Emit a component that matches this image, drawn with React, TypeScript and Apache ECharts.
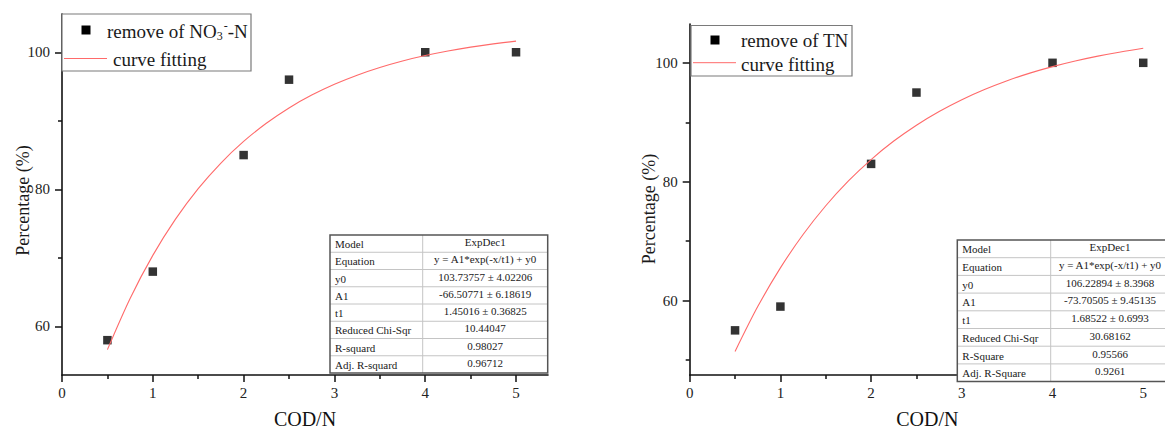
import React, { useEffect, useRef } from "react";
import * as echarts from "echarts";

// ---------- data ----------
const codN = [0.5, 1, 2, 2.5, 4, 5];
const no3Removal = [58, 68, 85, 96, 100, 100];
const tnRemoval = [55, 59, 83, 95, 100, 100];

// fitted curves (ExpDec1)
const fitX = [0.5, 0.75, 1, 1.25, 1.5, 1.75, 2, 2.25, 2.5, 2.75, 3, 3.25, 3.5, 3.75, 4, 4.25, 4.5, 4.75, 5];
const no3Fit = [56.62, 64.09, 70.37, 75.65, 80.1, 83.84, 86.99, 89.64, 91.88, 93.75, 95.33, 96.66, 97.78, 98.73, 99.52, 100.19, 100.75, 101.22, 101.62];
const tnFit = [51.45, 59.0, 65.51, 71.12, 75.96, 80.14, 83.73, 86.84, 89.51, 91.81, 93.8, 95.51, 96.99, 98.27, 99.36, 100.31, 101.13, 101.83, 102.44];

const xTickValues = [0, 1, 2, 3, 4, 5];
const xMinorTickValues = [0.5, 1.5, 2.5, 3.5, 4.5];
const yTickValues = [60, 80, 100];
const yMinorLeft = [70, 90];
const yMinorRight = [50, 70, 90];

const no3TableRows = [
  ["Model", "ExpDec1"],
  ["Equation", "y = A1*exp(-x/t1) + y0"],
  ["y0", "103.73757 ± 4.02206"],
  ["A1", "-66.50771 ± 6.18619"],
  ["t1", "1.45016 ± 0.36825"],
  ["Reduced Chi-Sqr", "10.44047"],
  ["R-squard", "0.98027"],
  ["Adj. R-squard", "0.96712"],
];
const tnTableRows = [
  ["Model", "ExpDec1"],
  ["Equation", "y = A1*exp(-x/t1) + y0"],
  ["y0", "106.22894 ± 8.3968"],
  ["A1", "-73.70505 ± 9.45135"],
  ["t1", "1.68522 ± 0.6993"],
  ["Reduced Chi-Sqr", "30.68162"],
  ["R-Square", "0.95566"],
  ["Adj. R-Square", "0.9261"],
];

const xAxisName = "COD/N";
const yAxisName = "Percentage (%)";
const legendNo3 = "{a|remove of NO}{sub|3}{sup|-}{a|-N}";
const legendTN = "remove of TN";
const legendFit = "curve fitting";

// ---------- styles ----------
const FONT = "Liberation Serif";
const AXIS_COLOR = "#111";
const CURVE_COLOR = "#ff6a6a";

function txt(x: number, y: number, text: string, align: string, size: number, z = 102, rotation = 0) {
  return {
    type: "text",
    x,
    y,
    z,
    rotation,
    silent: true,
    style: {
      text,
      fontSize: size,
      fontFamily: FONT,
      fill: "#1a1a1a",
      align,
      verticalAlign: "middle",
    },
  };
}

function tableGraphic(x0: number, y0: number, w1: number, w2: number, rowH: number, rows: string[][]) {
  const els: any[] = [];
  const h = rowH * rows.length;
  els.push({
    type: "rect",
    z: 100,
    silent: true,
    shape: { x: x0, y: y0, width: w1 + w2, height: h },
    style: { fill: "#fff", stroke: "none" },
  });
  rows.forEach((r, i) => {
    const cy = y0 + rowH * (i + 0.5);
    if (i > 0) {
      els.push({
        type: "line",
        z: 101,
        silent: true,
        shape: { x1: x0, y1: y0 + rowH * i, x2: x0 + w1 + w2, y2: y0 + rowH * i },
        style: { stroke: "#c4c4c4", lineWidth: 1 },
      });
    }
    els.push(txt(x0 + 5, cy + 0.5, r[0], "left", 11));
    els.push(txt(x0 + w1 + w2 / 2, cy - 1.5, r[1], "center", 11));
  });
  els.push({
    type: "line",
    z: 101,
    silent: true,
    shape: { x1: x0 + w1, y1: y0, x2: x0 + w1, y2: y0 + h },
    style: { stroke: "#c4c4c4", lineWidth: 1 },
  });
  els.push({
    type: "rect",
    z: 103,
    silent: true,
    shape: { x: x0, y: y0, width: w1 + w2, height: h },
    style: { fill: "none", stroke: "#555", lineWidth: 1.5 },
  });
  return els;
}

function legendGraphic(
  box: { x: number; y: number; w: number; h: number },
  sq: { x: number; y: number },
  label1: any,
  line: { x1: number; x2: number; y: number },
  t2: { x: number; y: number }
) {
  return [
    {
      type: "rect",
      z: 100,
      silent: true,
      shape: { x: box.x, y: box.y, width: box.w, height: box.h },
      style: { fill: "#fff", stroke: "#7a7a7a", lineWidth: 1.2 },
    },
    {
      type: "rect",
      z: 101,
      silent: true,
      shape: { x: sq.x - 4.5, y: sq.y - 4.5, width: 9, height: 9 },
      style: { fill: "#000" },
    },
    label1,
    {
      type: "line",
      z: 101,
      silent: true,
      shape: { x1: line.x1, y1: line.y, x2: line.x2, y2: line.y },
      style: { stroke: CURVE_COLOR, lineWidth: 1 },
    },
    txt(t2.x, t2.y, legendFit, "left", 19),
  ];
}

function richLabel(x: number, y: number) {
  return {
    type: "text",
    x,
    y,
    z: 102,
    silent: true,
    style: {
      text: legendNo3,
      fill: "#1a1a1a",
      align: "left",
      verticalAlign: "middle",
      rich: {
        a: { fontSize: 19, fontFamily: FONT, lineHeight: 22, fill: "#1a1a1a", verticalAlign: "middle" },
        sub: { fontSize: 12, fontFamily: FONT, lineHeight: 12, fill: "#1a1a1a", verticalAlign: "bottom" },
        sup: { fontSize: 12, fontFamily: FONT, lineHeight: 12, fill: "#1a1a1a", verticalAlign: "top", padding: [0, 0, 0, 1] },
      },
    },
  };
}

function mainX(gridIndex: number, max: number, nameGap: number) {
  return {
    gridIndex,
    type: "value",
    min: 0,
    max,
    position: "bottom",
    name: xAxisName,
    nameLocation: "middle",
    nameGap,
    nameTextStyle: { fontFamily: FONT, fontSize: 20, color: "#111" },
    axisLine: { show: true, onZero: false, lineStyle: { color: AXIS_COLOR, width: 1.6 } },
    axisTick: { show: true, customValues: xTickValues, length: 7, lineStyle: { color: AXIS_COLOR, width: 1.5 } },
    axisLabel: { customValues: xTickValues, margin: 10, fontFamily: FONT, fontSize: 15, color: "#222" },
    splitLine: { show: false },
  };
}
function minorX(gridIndex: number, max: number) {
  return {
    gridIndex,
    type: "value",
    min: 0,
    max,
    position: "bottom",
    axisLine: { show: false, onZero: false },
    axisTick: { show: true, customValues: xMinorTickValues, length: 4, lineStyle: { color: AXIS_COLOR, width: 1.5 } },
    axisLabel: { show: false },
    splitLine: { show: false },
  };
}
function mainY(gridIndex: number, min: number, max: number) {
  return {
    gridIndex,
    type: "value",
    min,
    max,
    position: "left",
    axisLine: { show: true, onZero: false, lineStyle: { color: AXIS_COLOR, width: 1.6 } },
    axisTick: { show: true, customValues: yTickValues, length: 7, lineStyle: { color: AXIS_COLOR, width: 1.5 } },
    axisLabel: { customValues: yTickValues, margin: 12, fontFamily: FONT, fontSize: 15, color: "#222" },
    splitLine: { show: false },
  };
}
function minorY(gridIndex: number, min: number, max: number, vals: number[]) {
  return {
    gridIndex,
    type: "value",
    min,
    max,
    position: "left",
    axisLine: { show: false, onZero: false },
    axisTick: { show: true, customValues: vals, length: 4, lineStyle: { color: AXIS_COLOR, width: 1.5 } },
    axisLabel: { show: false },
    splitLine: { show: false },
  };
}

export default function App() {
  const ref = useRef<HTMLDivElement>(null);
  useEffect(() => {
    if (!ref.current) return;
    const chart = echarts.init(ref.current, undefined, { renderer: "svg" });

    const leftXMax = 5.352;
    const leftYMin = 52.92;
    const leftYMax = 105.58;
    const rightXMax = 5.24;
    const rightYMin = 47.49;
    const rightYMax = 106.53;

    const option: any = {
      animation: false,
      backgroundColor: "#fff",
      grid: [
        { left: 62, top: 14, width: 486, height: 361.3 },
        { left: 689.7, top: 24, width: 475.3, height: 358.7 },
      ],
      xAxis: [mainX(0, leftXMax, 34), minorX(0, leftXMax), mainX(1, rightXMax, 34), minorX(1, rightXMax)],
      yAxis: [
        mainY(0, leftYMin, leftYMax),
        minorY(0, leftYMin, leftYMax, yMinorLeft),
        mainY(1, rightYMin, rightYMax),
        minorY(1, rightYMin, rightYMax, yMinorRight),
      ],
      series: [
        {
          type: "scatter",
          xAxisIndex: 0,
          yAxisIndex: 0,
          symbol: "rect",
          symbolSize: 8.5,
          itemStyle: { color: "#000" },
          data: codN.map((x, i) => [x, no3Removal[i]]),
          z: 2,
        },
        {
          type: "line",
          xAxisIndex: 0,
          yAxisIndex: 0,
          showSymbol: false,
          smooth: 0.3,
          lineStyle: { color: CURVE_COLOR, width: 1.1 },
          data: fitX.map((x, i) => [x, no3Fit[i]]),
          z: 3,
        },
        {
          type: "scatter",
          xAxisIndex: 2,
          yAxisIndex: 2,
          symbol: "rect",
          symbolSize: 8.5,
          itemStyle: { color: "#000" },
          data: codN.map((x, i) => [x, tnRemoval[i]]),
          z: 2,
        },
        {
          type: "line",
          xAxisIndex: 2,
          yAxisIndex: 2,
          showSymbol: false,
          smooth: 0.3,
          lineStyle: { color: CURVE_COLOR, width: 1.1 },
          data: fitX.map((x, i) => [x, tnFit[i]]),
          z: 3,
        },
      ],
      graphic: {
        elements: [
          txt(22.5, 200.5, yAxisName, "center", 18, 50, Math.PI / 2),
          txt(649, 209, yAxisName, "center", 18, 50, Math.PI / 2),
          ...legendGraphic(
            { x: 62, y: 14, w: 189, h: 57 },
            { x: 86, y: 30 },
            richLabel(107, 31),
            { x1: 64, x2: 107, y: 58.5 },
            { x: 113, y: 59 }
          ),
          ...legendGraphic(
            { x: 691, y: 25.5, w: 161, h: 50.5 },
            { x: 715, y: 40 },
            txt(741, 40.5, legendTN, "left", 19),
            { x1: 693, x2: 736, y: 62.7 },
            { x: 741, y: 64 }
          ),
          ...tableGraphic(330, 235, 92.7, 125, 17.25, no3TableRows),
          ...tableGraphic(957.3, 240, 93.4, 118.6, 17.7, tnTableRows),
        ],
      },
    };
    chart.setOption(option);
    return () => chart.dispose();
  }, []);

  return (
    <div
      ref={ref}
      style={{ position: "fixed", left: 0, top: 0, width: 1165, height: 434, background: "#fff" }}
    />
  );
}
